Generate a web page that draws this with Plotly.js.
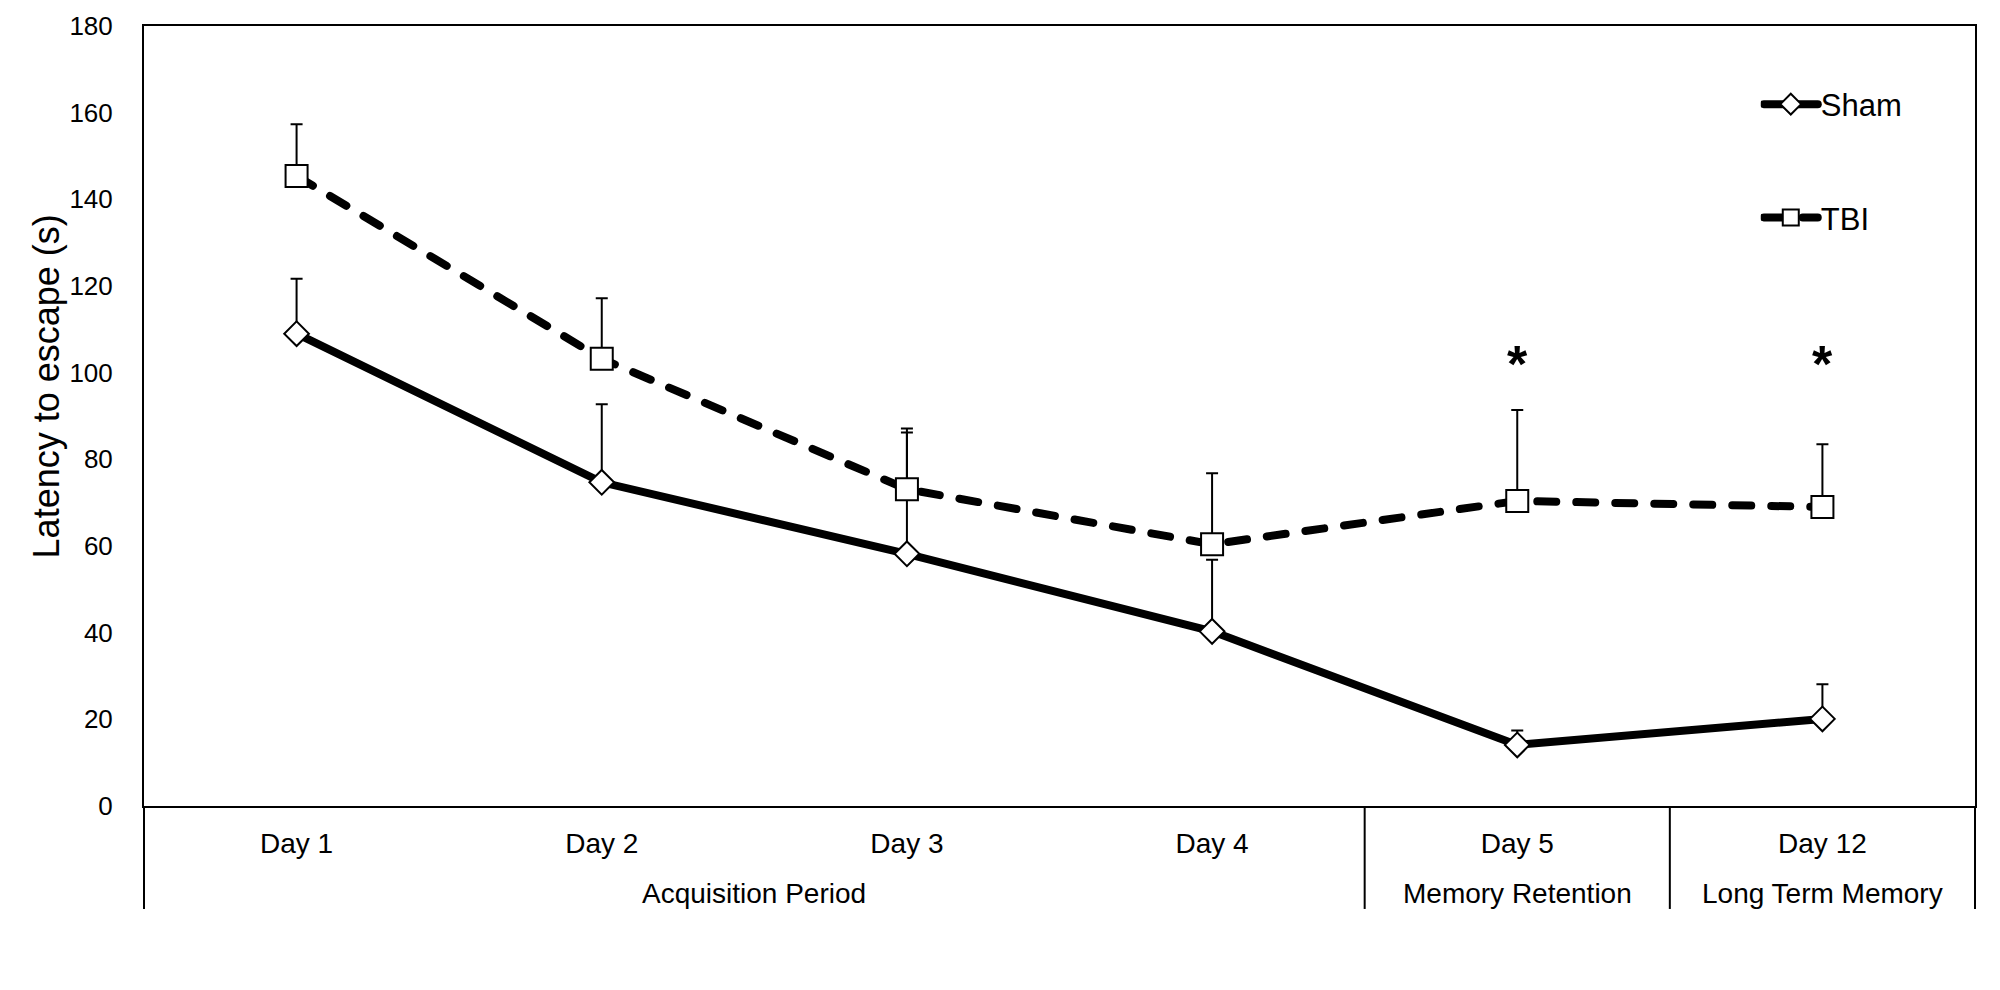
<!DOCTYPE html>
<html>
<head>
<meta charset="utf-8">
<script src="https://cdn.plot.ly/plotly-3.0.1.min.js"></script>
<style>
  html, body { margin: 0; padding: 0; background: #fff; }
  #chart { width: 2000px; height: 990px; }
  .scatterlayer .js-line { stroke-linecap: round; }
  .legend .js-line { stroke-linecap: round; stroke-width: 8px !important; }
</style>
</head>
<body>
<div id="chart"></div>
<script>
// ---- data ----
const days   = ["Day 1", "Day 2", "Day 3", "Day 4", "Day 5", "Day 12"];
const phases = ["Acquisition Period", "Acquisition Period", "Acquisition Period",
                "Acquisition Period", "Memory Retention", "Long Term Memory"];
const shamMean = [109.0, 74.7, 58.2, 40.3, 14.1, 20.1];
const shamSEM  = [12.7, 18.0, 28.0, 16.5, 3.3, 8.0];
const tbiMean  = [145.4, 103.2, 73.1, 60.4, 70.4, 69.0];
const tbiSEM   = [11.9, 14.0, 14.0, 16.4, 21.0, 14.5];
const significant = [false, false, false, false, true, true];
const yTicks = [0, 20, 40, 60, 80, 100, 120, 140, 160, 180];
const yTitle = "Latency to escape (s)";

const zeros = days.map(() => 0);
const FONT = "Liberation Sans, Arial, Helvetica, sans-serif";

const sham = {
  name: "Sham",
  legendgroup: "sham",
  type: "scatter",
  mode: "lines+markers",
  x: days,
  y: shamMean,
  line: { color: "#000", width: 8 },
  marker: { symbol: "diamond", size: 19, color: "#fff", line: { color: "#000", width: 2 } },
  error_y: { type: "data", symmetric: false, array: shamSEM, arrayminus: zeros,
             color: "#000", thickness: 2, width: 6 }
};
const tbi = {
  name: "TBI",
  legendgroup: "tbi",
  type: "scatter",
  mode: "lines+markers",
  x: days,
  y: tbiMean,
  line: { color: "#000", width: 8, dash: "19px,20px" },
  marker: { symbol: "square", size: 22, color: "#fff", line: { color: "#000", width: 2 } },
  error_y: { type: "data", symmetric: false, array: tbiSEM, arrayminus: zeros,
             color: "#000", thickness: 2, width: 6 }
};

const annotations = [];
const shapes = [];

// asterisks above significant days
significant.forEach((s, i) => {
  if (s) {
    annotations.push({
      x: days[i], y: 102, xref: "x", yref: "y",
      text: "<b>*</b>", showarrow: false,
      font: { family: FONT, size: 52, color: "#000" },
      xanchor: "center", yanchor: "middle"
    });
  }
});

// phase (group) labels and dividers, derived from the phases array
const groups = [];
phases.forEach((p, i) => {
  if (i === 0 || p !== phases[i - 1]) groups.push({ name: p, start: i, end: i });
  else groups[groups.length - 1].end = i;
});
const DIV_BOTTOM = -0.132;   // paper units below the x axis
groups.forEach((g, k) => {
  annotations.push({
    x: (g.start + g.end) / 2, y: -0.1128, xref: "x", yref: "paper",
    text: g.name, showarrow: false,
    font: { family: FONT, size: 28, color: "#000" },
    xanchor: "center", yanchor: "middle"
  });
  if (k > 0) {
    shapes.push({ type: "line", xref: "x", yref: "paper",
      x0: g.start - 0.5, x1: g.start - 0.5, y0: 0, y1: DIV_BOTTOM,
      line: { color: "#000", width: 2 } });
  }
});
// outer edges of the category table
[0, 1].forEach(edge => {
  shapes.push({ type: "line", xref: "x domain", yref: "paper",
    x0: edge, x1: edge, y0: 0, y1: DIV_BOTTOM,
    line: { color: "#000", width: 2 } });
});

// y axis title
annotations.push({
  x: -0.0535, y: 0.538, xref: "paper", yref: "paper",
  text: yTitle, textangle: -90, showarrow: false,
  font: { family: FONT, size: 36, color: "#000" },
  xanchor: "center", yanchor: "middle"
});

const layout = {
  width: 2000, height: 990,
  margin: { l: 144, r: 25, t: 26, b: 184 },
  paper_bgcolor: "#fff", plot_bgcolor: "#fff",
  font: { family: FONT, color: "#000", size: 26 },
  showlegend: true,
  legend: {
    x: 0.883, y: 0.934, xanchor: "left", yanchor: "top",
    font: { family: FONT, size: 31, color: "#000" },
    bgcolor: "rgba(0,0,0,0)", borderwidth: 0,
    traceorder: "grouped", tracegroupgap: 70, itemwidth: 50
  },
  xaxis: {
    type: "category",
    range: [-0.5, 5.5],
    showline: true, linecolor: "#000", linewidth: 2, mirror: true,
    showgrid: false, zeroline: false, ticks: "",
    ticklabelstandoff: 11,
    tickfont: { family: FONT, size: 28, color: "#000" }
  },
  yaxis: {
    range: [0, 180],
    tickvals: yTicks,
    showline: true, linecolor: "#000", linewidth: 2, mirror: true,
    showgrid: false, zeroline: false, ticks: "",
    ticklabelstandoff: 24,
    tickfont: { family: FONT, size: 26, color: "#000" }
  },
  annotations: annotations,
  shapes: shapes
};

Plotly.newPlot("chart", [sham, tbi], layout, { displayModeBar: false, staticPlot: true })
  .then(gd => {
    // longer legend line samples, marker centred on the line, ending just before the text
    gd.querySelectorAll(".legend .traces").forEach(tr => {
      const line = tr.querySelector(".js-line");
      const pt = tr.querySelector(".scatterpts");
      const txt = tr.querySelector("text.legendtext");
      if (!line || !txt) return;
      const end = parseFloat(txt.getAttribute("x")) - 3;
      const len = 54;
      line.setAttribute("d", "M" + (end - len) + ",0h" + len);
      if (pt) pt.setAttribute("transform", "translate(" + (end - len / 2) + ",0)");
    });
  });
</script>
</body>
</html>
